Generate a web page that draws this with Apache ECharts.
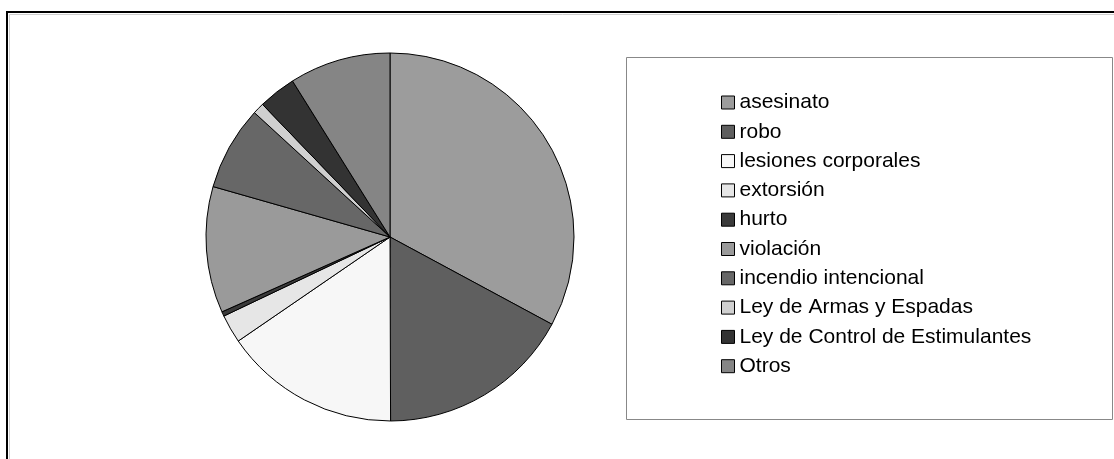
<!DOCTYPE html>
<html>
<head>
<meta charset="utf-8">
<script src="https://cdn.jsdelivr.net/npm/echarts@6/dist/echarts.min.js"></script>
<style>
html,body{margin:0;padding:0;background:#fff;}
#chart{width:1114px;height:459px;}
</style>
</head>
<body>
<div id="chart"></div>
<script>
const categories = ['asesinato','robo','lesiones corporales','extorsión','hurto','violación','incendio intencional','Ley de Armas y Espadas','Ley de Control de Estimulantes','Otros'];
const values = [32.9, 17.1, 15.5, 2.5, 0.4, 11.1, 7.4, 1.0, 3.3, 8.9];
const colors = ['#9c9c9c','#5f5f5f','#f7f7f7','#e6e6e6','#3a3a3a','#9a9a9a','#676767','#d0d0d0','#333333','#858585'];

const chart = echarts.init(document.getElementById('chart'), null, {renderer:'canvas'});
chart.setOption({
  animation: false,
  backgroundColor: '#ffffff',
  graphic: [
    {type:'rect', shape:{x:9.5, y:14.5, width:1200, height:600}, style:{fill:'none', stroke:'#cfcfcf', lineWidth:1}, z:0},
    {type:'rect', shape:{x:7, y:12, width:1200, height:600}, style:{fill:'none', stroke:'#000', lineWidth:2}, z:1},
    {type:'rect', shape:{x:626.5, y:57.5, width:486, height:362}, style:{fill:'#fff', stroke:'#888', lineWidth:1}, z:1}
  ],
  legend: {
    orient: 'vertical',
    left: 716,
    top: 87,
    itemWidth: 13,
    itemHeight: 13,
    itemGap: 8.3,
    icon: 'rect',
    itemStyle: {borderColor:'#000', borderWidth:1},
    textStyle: {fontFamily:'Liberation Sans, Arial, sans-serif', fontSize:21, color:'#000', lineHeight:21},
    data: categories,
    z: 5
  },
  series: [{
    type: 'pie',
    center: [390, 237],
    radius: 184,
    startAngle: 90,
    clockwise: true,
    label: {show:false},
    labelLine: {show:false},
    emphasis: {disabled:true},
    itemStyle: {borderColor:'#000', borderWidth:1},
    data: categories.map((c,i)=>({name:c, value:values[i], itemStyle:{color:colors[i]}}))
  }]
});
</script>
</body>
</html>
